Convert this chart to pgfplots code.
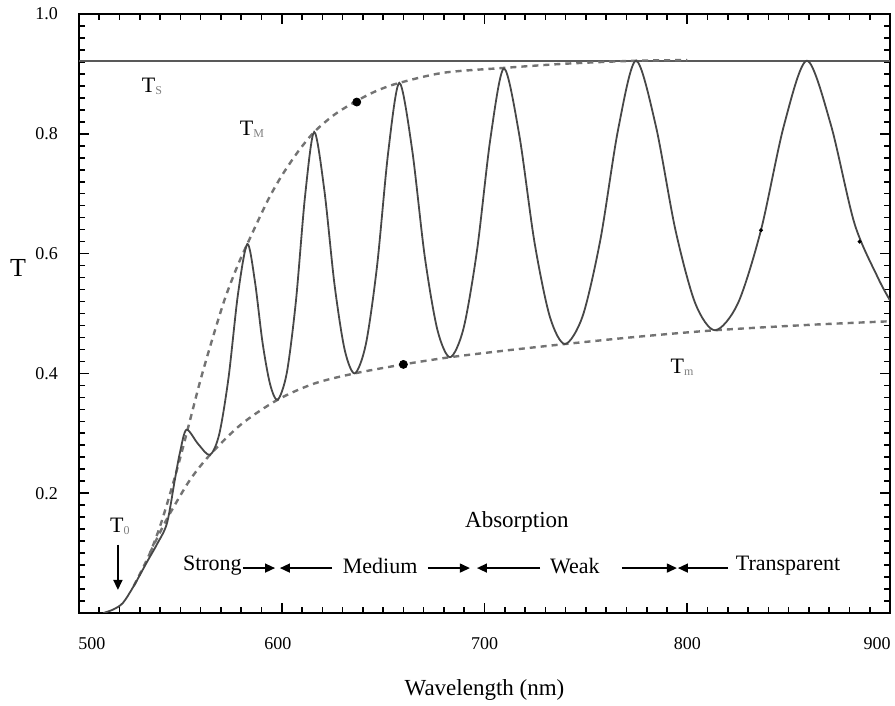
\documentclass[border=0pt]{standalone}
\usepackage{fontspec}
\setmainfont{Liberation Serif}
\usepackage{pgfplots}
\pgfplotsset{compat=1.18}
\usetikzlibrary{arrows.meta}
\definecolor{curvec}{gray}{0.28}
\definecolor{envc}{gray}{0.45}
\definecolor{tsc}{gray}{0.35}
\begin{document}
\begin{tikzpicture}
\useasboundingbox (-39.5pt,-46.5pt) rectangle (408pt,306.5pt);
\begin{axis}[
  at={(0pt,0pt)}, anchor=south west,
  scale only axis, width=405.5pt, height=299.5pt,
  xmin=500, xmax=900, ymin=0, ymax=1,
  xtick={500,600,700,800,900},
  xticklabels={\hspace*{13pt}500,600\hspace*{4pt},700,800,900\hspace*{13pt}},
  ytick={0,0.2,0.4,0.6,0.8,1.0},
  yticklabels={,0.2,0.4,0.6,0.8,1.0},
  minor x tick num=9, minor y tick num=9,
  tick align=inside,
  major tick length=5pt, minor tick length=3pt,
  every tick/.style={black, line width=0.8pt},
  axis line style={line width=1.1pt},
  tick label style={font=\fontsize{9}{10}\selectfont},
  /pgf/number format/assume math mode=true,
  xticklabel style={yshift=-8.5pt},
  yticklabel style={xshift=-7pt},
  xlabel={Wavelength (nm)}, ylabel={T},
  xlabel style={at={(axis description cs:0.5,0)}, anchor=center, yshift=-38.5pt, font=\fontsize{11.5}{13}\selectfont},
  ylabel style={rotate=-90, at={(axis description cs:-0.0752,0.576)}, anchor=center, font=\fontsize{13}{15}\selectfont},
]
% T_S line
\addplot[tsc, line width=1.2pt] coordinates {(500,0.922) (900,0.922)};
% upper envelope T_M
\addplot[envc, line width=1.2pt, dash pattern=on 3pt off 2.5pt, smooth] coordinates {
(527,0.045) (530,0.065) (535,0.10) (540,0.145) (545,0.20) (550,0.26) (555,0.325) (560,0.39) (566,0.46) (572,0.525) (578,0.578) (583,0.616) (593,0.688) (600,0.73) (608,0.77) (616,0.803) (626,0.832) (637,0.855) (647,0.872) (658,0.885) (680,0.902) (709.6,0.91) (740,0.917) (774.7,0.922) (800,0.923)};
% lower envelope T_m
\addplot[envc, line width=1.2pt, dash pattern=on 3pt off 2.5pt, smooth] coordinates {
(535,0.1) (540,0.135) (545,0.167) (554.7,0.222) (564.6,0.264) (580,0.315) (598,0.356) (616,0.383) (636,0.400) (660,0.415) (683,0.427) (710,0.438) (739.7,0.449) (775,0.461) (813.7,0.472) (860,0.481) (900,0.487)};
% transmission spectrum
\addplot[curvec, line width=0.9pt, smooth] coordinates {
(512,0) (517,0.006) (521.7,0.017) (527,0.045) (533.5,0.085) (538.5,0.115) (543.4,0.15) (547.3,0.223) (549.8,0.268) (553,0.306) (558.8,0.282) (564.6,0.264) (569.2,0.299) (573.8,0.394) (578.4,0.532) (583,0.616) (586.75,0.554) (590.5,0.452) (594.25,0.382) (598,0.356) (602.5,0.401) (607,0.521) (611.5,0.696) (616,0.803) (621,0.706) (626,0.549) (631,0.440) (636,0.400) (641.5,0.449) (647,0.579) (652.5,0.769) (658,0.885) (664.25,0.775) (670.5,0.596) (676.75,0.473) (683,0.427) (689.65,0.475) (696.3,0.605) (702.95,0.793) (709.6,0.909) (717.1,0.799) (724.65,0.619) (732.2,0.495) (739.7,0.449) (748.45,0.496) (757.2,0.624) (765.95,0.808) (774.7,0.922) (784.45,0.814) (794.2,0.639) (803.95,0.517) (813.7,0.472) (825,0.517) (836.35,0.639) (847.7,0.814) (859,0.922) (870.75,0.816) (882.5,0.65) (894,0.56) (900,0.522)};
% dots
\addplot[only marks, mark=*, mark size=2pt, black] coordinates {(637,0.853) (660,0.415)};
\addplot[only marks, mark=*, mark size=0.8pt, black] coordinates {(836.35,0.639) (885,0.62)};
% labels
\node[font=\fontsize{11}{12}\selectfont] at (axis cs:536,0.879) {T\textcolor{gray}{\fontsize{6}{7}\selectfont\raisebox{-0.4ex}{S}}};
\node[font=\fontsize{11}{12}\selectfont] at (axis cs:585.3,0.808) {T\textcolor{gray}{\fontsize{6}{7}\selectfont\raisebox{-0.4ex}{M}}};
\node[font=\fontsize{11}{12}\selectfont] at (axis cs:797.4,0.41) {T\textcolor{gray}{\fontsize{6}{7}\selectfont\raisebox{-0.4ex}{m}}};
\node[font=\fontsize{11}{12}\selectfont] at (axis cs:520.2,0.144) {T\textcolor{gray}{\fontsize{6}{7}\selectfont\raisebox{-0.4ex}{0}}};
\draw[-{Triangle[length=5pt,width=4.5pt]}, line width=0.8pt] (axis cs:519.2,0.114) -- (axis cs:519.2,0.0385);
\node[font=\fontsize{11.5}{13}\selectfont] at (axis cs:716,0.152) {Absorption};
\begin{scope}[font=\fontsize{11}{12}\selectfont]
\node at (axis cs:565.8,0.079) {Strong};
\node at (axis cs:648.5,0.079) {Medium};
\node at (axis cs:744.6,0.079) {Weak};
\node at (axis cs:849.7,0.079) {Transparent};
\end{scope}
\begin{scope}[line width=0.7pt, -{Triangle[length=5pt,width=4.5pt]}]
\draw (axis cs:580.9,0.075) -- (axis cs:596.7,0.075);
\draw (axis cs:624.8,0.075) -- (axis cs:599.1,0.075);
\draw (axis cs:672.1,0.075) -- (axis cs:692.8,0.075);
\draw (axis cs:727.4,0.075) -- (axis cs:696.3,0.075);
\draw (axis cs:767.8,0.075) -- (axis cs:794.9,0.075);
\draw (axis cs:820.1,0.075) -- (axis cs:795.4,0.075);
\end{scope}
\end{axis}
\end{tikzpicture}
\end{document}
